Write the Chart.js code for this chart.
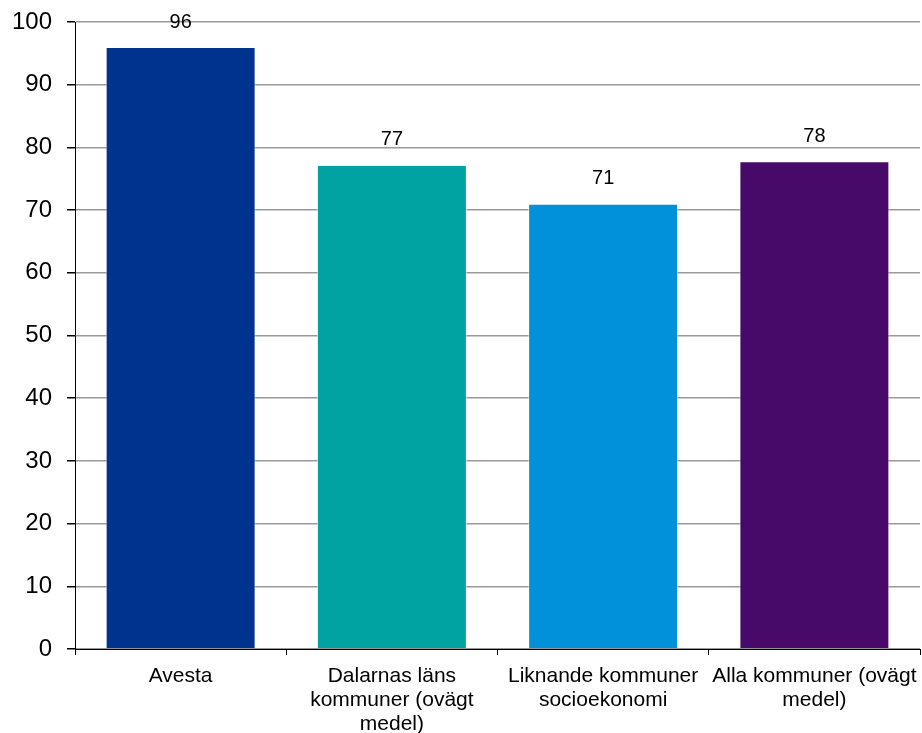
<!DOCTYPE html>
<html>
<head>
<meta charset="utf-8">
<script src="https://cdn.jsdelivr.net/npm/chart.js@4/dist/chart.umd.min.js"></script>
<style>
  body { margin: 0; background: #fff; }
  .wrap { width: 922px; height: 733px; }
</style>
</head>
<body>
<div class="wrap"><canvas id="myChart"></canvas></div>
<script>
"use strict";

const categories = [
  ["Avesta"],
  ["Dalarnas läns", "kommuner (ovägt", "medel)"],
  ["Liknande kommuner", "socioekonomi"],
  ["Alla kommuner (ovägt", "medel)"],
];
const values = [96, 77.2, 71, 77.8];
const barColors = ["#00338D", "#00A3A1", "#0091DA", "#470A68"];
const yTicks = [0, 10, 20, 30, 40, 50, 60, 70, 80, 90, 100];

const FONT = "'Liberation Sans', Arial, sans-serif";

// value labels above the bars
const valueLabels = {
  id: "valueLabels",
  afterDatasetsDraw(chart) {
    const ctx = chart.ctx;
    const meta = chart.getDatasetMeta(0);
    ctx.save();
    ctx.font = "20px " + FONT;
    ctx.fillStyle = "#000";
    ctx.textAlign = "center";
    ctx.textBaseline = "middle";
    meta.data.forEach((bar, i) => {
      ctx.fillText(Math.round(values[i]), bar.x, bar.y - 25);
    });
    ctx.restore();
  },
};

const ctx = document.getElementById("myChart");

new Chart(ctx, {
  type: "bar",
  data: {
    labels: categories,
    datasets: [
      {
        data: values,
        backgroundColor: barColors,
        borderColor: "rgba(255,255,255,0.6)",
        borderWidth: 1,
        barPercentage: 0.71,
        categoryPercentage: 1,
      },
    ],
  },
  options: {
    responsive: true,
    maintainAspectRatio: false,
    animation: false,
    layout: {
      padding: { top: 22, right: 2, left: 0, bottom: 0 },
    },
    plugins: {
      legend: { display: false },
      tooltip: { enabled: false },
    },
    scales: {
      x: {
        afterFit(axis) {
          axis.height = 84;
          axis.paddingLeft = 0;
          axis.paddingRight = 0;
        },
        grid: {
          offset: true,
          drawOnChartArea: false,
          tickLength: 6,
          color: "#000",
        },
        border: { color: "#000" },
        ticks: {
          maxRotation: 0,
          autoSkip: false,
          color: "#000",
          padding: 9,
          font: { family: FONT, size: 21, lineHeight: 1.15 },
        },
      },
      y: {
        min: 0,
        max: 100,
        afterBuildTicks(axis) {
          axis.ticks = yTicks.map((v) => ({ value: v }));
        },
        afterFit(axis) {
          axis.width = 75;
          axis.paddingTop = 0;
          axis.paddingBottom = 0;
        },
        grid: {
          color: "#999",
          lineWidth: 1.5,
          tickLength: 8,
          tickColor: "#000",
        },
        border: { color: "#000" },
        ticks: {
          color: "#000",
          padding: 15,
          font: { family: FONT, size: 24 },
        },
      },
    },
  },
  plugins: [valueLabels],
});
</script>
</body>
</html>
